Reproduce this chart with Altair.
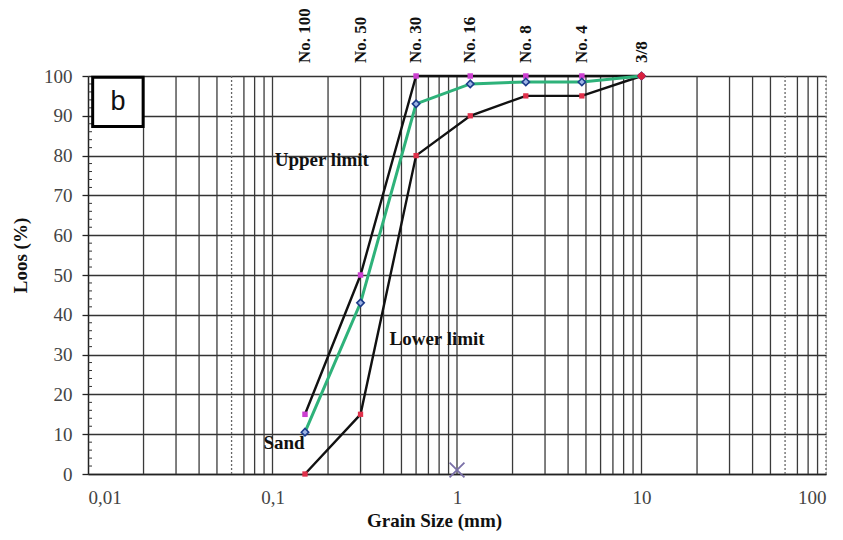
import altair as alt
import pandas as pd

# ---- data ----
sieve_labels = ["No. 100", "No. 50", "No. 30", "No. 16", "No. 8", "No. 4", "3/8"]
sieve_mm = [0.15, 0.3, 0.6, 1.18, 2.36, 4.75, 10]
upper_limit = [15, 50, 100, 100, 100, 100, 100]
sand = [10.5, 43, 93, 98, 98.5, 98.5, 100]
lower_limit = [0, 15, 80, 90, 95, 95, 100]

x_ticks = [0.01, 0.1, 1, 10, 100]
y_ticks = [0, 10, 20, 30, 40, 50, 60, 70, 80, 90, 100]
y_minor = [2, 4, 6, 8, 12, 14, 16, 18, 22, 24, 26, 28, 32, 34, 36, 38, 42, 44, 46, 48,
           52, 54, 56, 58, 62, 64, 66, 68, 72, 74, 76, 78, 82, 84, 86, 88, 92, 94, 96, 98]
grid_solid = [0.02, 0.03, 0.04, 0.05, 0.07, 0.08, 0.09, 0.1,
              0.2, 0.3, 0.4, 0.5, 0.6, 0.7, 0.8, 0.9, 1,
              2, 3, 4, 5, 6, 7, 8, 9, 10,
              20, 30, 40, 50, 70, 80, 90]
grid_dotted = [0.06, 60, 100]

ann_text = ["Upper limit", "Lower limit", "Sand"]
ann_x = [0.185, 0.78, 0.1154]
ann_y = [79, 34, 7.8]

box_label = ["b"]
box_x = [0.0106]
box_x2 = [0.0199]
box_y = [99.7]
box_y2 = [87.3]
box_tx = [0.01455]
box_ty = [93.4]

cross_x = [1]
cross_y = [1]

SERIF = "Liberation Serif"

df = pd.DataFrame({"size": sieve_mm, "upper": upper_limit, "sand": sand,
                   "lower": lower_limit, "label": sieve_labels})
xs = alt.Scale(type="log", domain=[0.01, 100])
ys = alt.Scale(domain=[0, 100])

x_axis = alt.Axis(values=x_ticks, ticks=False, grid=False, domainColor="#222",
                  domainWidth=1.5, labelFont=SERIF, labelFontSize=19,
                  labelColor="#444", labelPadding=14, labelOverlap=False,
                  labelExpr="replace(toString(datum.value), '.', ',')",
                  titleFont=SERIF, titleFontSize=19, titleFontWeight="bold",
                  titleColor="#111", titleX=346, titleY=46,
                  titleBaseline="middle", titleAlign="center")
y_axis = alt.Axis(values=y_ticks, tickSize=6, tickColor="#222",
                  tickWidth=1.3, domainColor="#222", domainWidth=1.5,
                  grid=True, gridColor="#333", gridWidth=1.3,
                  labelFont=SERIF, labelFontSize=19, labelColor="#444",
                  labelPadding=10, labelOverlap=False, titleFont=SERIF,
                  titleFontSize=19, titleFontWeight="bold", titleColor="#111",
                  titleAngle=270, titleX=-68, titleY=179,
                  titleBaseline="middle", titleAlign="center")
X_TITLE = "Grain Size (mm)"
Y_TITLE = "Loos (%)"


def XQ(field):
    return alt.X(f"{field}:Q", scale=xs, axis=x_axis, title=X_TITLE)


def YQ(field):
    return alt.Y(f"{field}:Q", scale=ys, axis=y_axis, title=Y_TITLE)


base = alt.Chart(df)

# axes + horizontal grid (invisible carrier)
axes_layer = base.mark_point(opacity=0).encode(x=XQ("size"), y=YQ("upper"))

gs = alt.Chart(pd.DataFrame({"g": grid_solid})).mark_rule(color="#3a3a3a", strokeWidth=1.3).encode(
    x=XQ("g"))
gd = alt.Chart(pd.DataFrame({"g": grid_dotted})).mark_rule(
    color="#666", strokeWidth=1.3, strokeDash=[2, 2]).encode(x=XQ("g"))

minor = alt.Chart(pd.DataFrame({"m": y_minor})).mark_rule(color="#333", strokeWidth=1).encode(
    y=YQ("m"), x=alt.value(0), x2=alt.value(4))

box = alt.Chart(pd.DataFrame({"x": box_x, "x2": box_x2, "y": box_y, "y2": box_y2})).mark_rect(
    fill="white", stroke="black", strokeWidth=3).encode(
    x=XQ("x"), x2="x2:Q", y=YQ("y"), y2="y2:Q")
box_t = alt.Chart(pd.DataFrame({"t": box_label, "x": box_tx, "y": box_ty})).mark_text(
    font="Liberation Sans", fontSize=27, color="#111", align="center", baseline="middle").encode(
    x=XQ("x"), y=YQ("y"), text="t:N")

upper_line = base.mark_line(color="#111", strokeWidth=2.4).encode(x=XQ("size"), y=YQ("upper"))
sand_line = base.mark_line(color="#2eb27a", strokeWidth=3).encode(x=XQ("size"), y=YQ("sand"))
lower_line = base.mark_line(color="#111", strokeWidth=2.4).encode(x=XQ("size"), y=YQ("lower"))

upper_pts = base.mark_point(shape="square", filled=True, color="#cc3fd0", size=30, opacity=1).encode(
    x=XQ("size"), y=YQ("upper"))
sand_pts = base.mark_point(shape="diamond", filled=True, fill="#9db4e6", stroke="#1c3a8a",
                           strokeWidth=1.6, size=55, opacity=1).encode(
    x=XQ("size"), y=YQ("sand"))
lower_pts = base.mark_point(shape="square", filled=True, color="#e0304a", size=28, opacity=1).encode(
    x=XQ("size"), y=YQ("lower"))
last_pt = base.transform_filter("datum.size >= 9").mark_point(
    shape="diamond", filled=True, color="#d8203e", size=80, opacity=1).encode(
    x=XQ("size"), y=YQ("lower"))

top_labels = base.mark_text(angle=270, align="left", baseline="middle", font=SERIF,
                            fontSize=17, fontWeight="bold", color="#111").encode(
    x=XQ("size"), y=alt.value(-13), text="label:N")

ann = alt.Chart(pd.DataFrame({"t": ann_text, "x": ann_x, "y": ann_y})).mark_text(
    font=SERIF, fontSize=19, fontWeight="bold", color="#111", align="center", baseline="middle").encode(
    x=XQ("x"), y=YQ("y"), text="t:N")

cross = alt.Chart(pd.DataFrame({"x": cross_x, "y": cross_y})).mark_point(
    shape="M-1,-1L1,1M-1,1L1,-1", filled=False, stroke="#7a70a8", strokeWidth=1.8,
    size=220, opacity=1).encode(x=XQ("x"), y=YQ("y"))

chart = alt.layer(
    axes_layer, gs, gd, minor, box, box_t,
    upper_line, lower_line, sand_line,
    upper_pts, sand_pts, lower_pts, last_pt,
    top_labels, ann, cross
).properties(
    width=738, height=398,
    autosize=alt.AutoSizeParams(type="none"),
    padding={"left": 80, "top": 68, "right": 9, "bottom": 58},
).configure_view(strokeWidth=0).configure(background="white")

chart.save("out.html", embed_options={"renderer": "svg", "actions": False})
